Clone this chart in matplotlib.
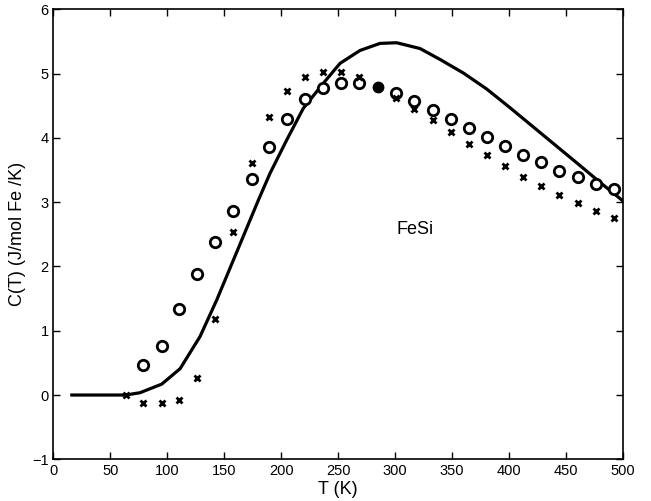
import matplotlib
matplotlib.use("Agg")
import matplotlib.pyplot as plt

plt.rcParams['font.family'] = ['Liberation Sans', 'DejaVu Sans']

# Open circles (measured)
circ_T = [79.0, 95.2, 110.7, 126.5, 142.3, 158.1, 174.2, 189.7, 205.5, 221.0, 237.1,
          252.9, 268.7, 300.9, 317.0, 333.2, 349.0, 364.8, 380.6, 396.7, 412.5,
          428.3, 444.3, 460.5, 476.6, 492.4]
circ_C = [0.47, 0.76, 1.34, 1.89, 2.38, 2.86, 3.36, 3.86, 4.29, 4.60, 4.78,
          4.86, 4.85, 4.70, 4.58, 4.44, 4.30, 4.15, 4.01, 3.87, 3.74,
          3.62, 3.49, 3.39, 3.29, 3.21]
# Filled circle
fill_T = [285.1]
fill_C = [4.79]
# Crosses
cross_T = [63.5, 79.0, 95.2, 110.7, 126.5, 142.3, 158.1, 174.2, 189.7, 205.5, 221.0,
           237.1, 252.9, 268.7, 285.1, 300.9, 317.0, 333.2, 349.0, 364.8, 380.6,
           396.7, 412.5, 428.3, 444.3, 460.5, 476.6, 492.4]
cross_C = [0.0, -0.12, -0.12, -0.07, 0.26, 1.19, 2.54, 3.61, 4.32, 4.73, 4.95,
           5.03, 5.02, 4.94, 4.79, 4.62, 4.45, 4.28, 4.09, 3.90, 3.73,
           3.56, 3.39, 3.25, 3.11, 2.99, 2.87, 2.76]
# Theory curve
line_T = [16.2, 40.0, 63.5, 76.1, 95.2, 111.3, 128.8, 143.5, 158.1, 172.7, 180.0,
          190.3, 205.0, 219.5, 237.1, 251.8, 269.3, 286.9, 301.5, 322.0, 339.6,
          360.0, 380.6, 401.0, 421.5, 442.0, 462.5, 480.0, 499.5]
line_C = [0.0, 0.0, 0.0, 0.036, 0.17, 0.41, 0.91, 1.48, 2.10, 2.72, 3.03,
          3.45, 3.97, 4.46, 4.85, 5.16, 5.36, 5.47, 5.48, 5.39, 5.22,
          5.01, 4.76, 4.47, 4.17, 3.87, 3.57, 3.31, 3.03]

fig = plt.figure(figsize=(6.51, 5.01), dpi=100)
ax = fig.add_axes([0.082, 0.0832, 0.8745, 0.8982])

ax.plot(line_T, line_C, color='black', lw=2.3, solid_joinstyle='round')
ax.plot(circ_T, circ_C, 'o', mfc='white', mec='black', mew=2.0, ms=7.5)
ax.plot(fill_T, fill_C, 'o', mfc='black', mec='black', ms=7.5)
ax.plot(cross_T, cross_C, 'x', color='black', mew=2.0, ms=4.5)

ax.text(317.5, 2.58, 'FeSi', ha='center', va='center', fontsize=13)

ax.set_xlim(0, 500)
ax.set_ylim(-1, 6)
ax.set_xticks(range(0, 501, 50))
ax.set_yticks(range(-1, 7))
ax.tick_params(direction='in', top=True, right=True, labelsize=10.5, length=5, width=1)
for s in ax.spines.values():
    s.set_linewidth(1.2)
ax.set_xlabel('T (K)', fontsize=13, labelpad=2)
ax.set_ylabel('C(T) (J/mol Fe /K)', fontsize=13, labelpad=4)

fig.savefig('out.png', dpi=100)
